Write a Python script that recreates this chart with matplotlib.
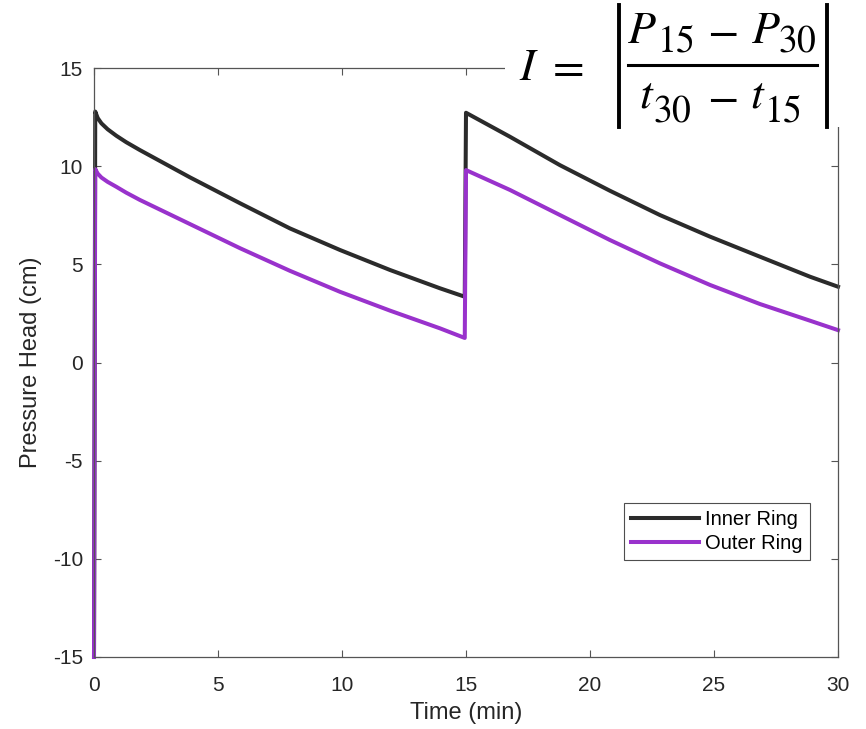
import matplotlib
matplotlib.use("Agg")
import matplotlib.pyplot as plt
from matplotlib.patches import Rectangle
from matplotlib.lines import Line2D

plt.rcParams['font.family'] = ['Liberation Sans', 'DejaVu Sans']
plt.rcParams['mathtext.fontset'] = 'stix'
plt.rcParams['axes.unicode_minus'] = False

# values (minutes, cm)
time_min = [0, 0.05, 0.15, 0.3, 0.55, 0.9, 1.3, 1.85, 3.87, 5.89, 7.9, 9.92, 11.94, 13.95, 14.95,
            15.0, 16.77, 18.79, 20.8, 22.82, 24.84, 26.85, 28.87, 30]
inner_ring = [-15, 12.78, 12.45, 12.18, 11.88, 11.55, 11.22, 10.82, 9.43, 8.11, 6.83, 5.73, 4.71, 3.78, 3.35,
              12.72, 11.5, 10.05, 8.75, 7.51, 6.41, 5.39, 4.37, 3.86]
outer_ring = [-15, 9.85, 9.62, 9.42, 9.2, 8.95, 8.65, 8.28, 7.05, 5.82, 4.67, 3.6, 2.64, 1.74, 1.25,
              9.8, 8.79, 7.51, 6.24, 5.05, 3.95, 2.98, 2.13, 1.65]

x_ticks = [0, 5, 10, 15, 20, 25, 30]
y_ticks = [-15, -10, -5, 0, 5, 10, 15]

text_color = '#262626'
axis_color = '#555555'

W, H = 866, 729


def fx(px):
    return px / W


def fy(py):
    return 1 - py / H


fig = plt.figure(figsize=(W / 100, H / 100), dpi=100)
ax = fig.add_axes([fx(94), fy(657), 744 / W, 589 / H])

ax.plot(time_min, inner_ring, color='#2b2b2b', lw=2.9, label='Inner Ring', clip_on=False)
ax.plot(time_min, outer_ring, color='#9932cc', lw=2.9, label='Outer Ring', clip_on=False)

ax.set_xlim(0, 30)
ax.set_ylim(-15, 15)
ax.set_xticks(x_ticks)
ax.set_yticks(y_ticks)
ax.tick_params(direction='in', length=5, width=0.8, colors=axis_color,
               labelcolor=text_color, labelsize=15, top=True, right=True)
ax.tick_params(axis='x', pad=14)
ax.tick_params(axis='y', pad=8)
for s in ax.spines.values():
    s.set_color(axis_color)
    s.set_linewidth(0.9)

ax.set_xlabel('Time (min)', fontsize=17, color=text_color, labelpad=5)
ax.set_ylabel('Pressure Head (cm)', fontsize=17, color=text_color, labelpad=8)

leg = ax.legend(loc='lower right', bbox_to_anchor=(0.962, 0.164), fontsize=14.5,
                frameon=True, fancybox=False, handlelength=3.4, borderpad=0.35,
                labelspacing=0.28, handletextpad=0.3, borderaxespad=0)
leg.get_frame().set_edgecolor('#222222')
leg.get_frame().set_linewidth(0.8)

# formula pasted over the top right corner, placed piece by piece
fig.patches.append(Rectangle((fx(505), fy(127)), 1, 1, transform=fig.transFigure,
                             facecolor='white', edgecolor='none', zorder=5))
big, small = 33, 27
pieces = [
    (r'$I$', 519, 80, big, 'left', 'baseline'),
    (r'$=$', 565, 67, big, 'center', 'center'),
    (r'$P$', 627, 43, big, 'left', 'baseline'),
    (r'$\mathrm{15}$', 657, 52, small, 'left', 'baseline'),
    (r'$-$', 722, 32, big, 'center', 'center'),
    (r'$P$', 751, 43, big, 'left', 'baseline'),
    (r'$\mathrm{30}$', 778, 52, small, 'left', 'baseline'),
    (r'$t$', 639, 107, big, 'left', 'baseline'),
    (r'$\mathrm{30}$', 653, 122, small, 'left', 'baseline'),
    (r'$-$', 722, 98, big, 'center', 'center'),
    (r'$t$', 750, 107, big, 'left', 'baseline'),
    (r'$\mathrm{15}$', 764, 122, small, 'left', 'baseline'),
]
for s, x, y, size, ha, va in pieces:
    fig.text(fx(x), fy(y), s, fontsize=size, ha=ha, va=va, zorder=6)
for x0, x1, y0, y1, w in [(628, 817, 65, 65, 2.2),
                          (619, 619, 5, 127, 2.8),
                          (827, 827, 5, 127, 2.8)]:
    fig.lines.append(Line2D([fx(x0), fx(x1)], [fy(y0), fy(y1)], transform=fig.transFigure,
                            color='black', lw=w, zorder=6))

fig.savefig('out.png', dpi=100)
